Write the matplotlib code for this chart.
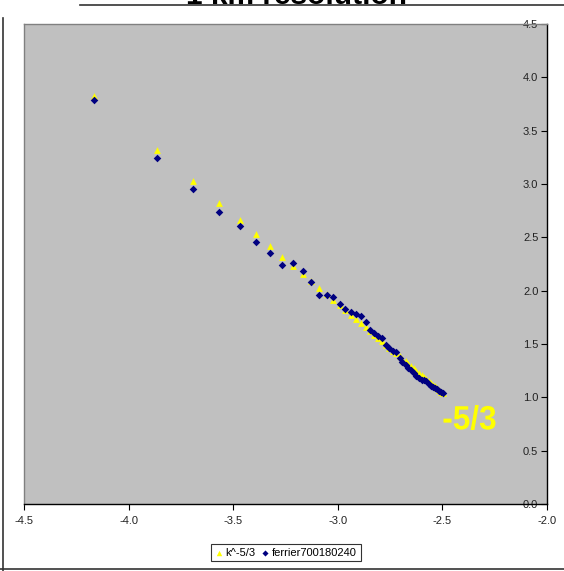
import matplotlib
matplotlib.use("Agg")
import matplotlib.pyplot as plt
from matplotlib.lines import Line2D
from matplotlib.textpath import TextPath
from matplotlib.patches import PathPatch
from matplotlib.font_manager import FontProperties
from matplotlib.transforms import Affine2D, IdentityTransform

# ---- data ----
x_vals = [-4.167, -3.866, -3.690, -3.565, -3.468, -3.389, -3.322, -3.264, -3.212, -3.167,
          -3.125, -3.087, -3.053, -3.021, -2.991, -2.963, -2.936, -2.911, -2.888, -2.866,
          -2.844, -2.824, -2.805, -2.786, -2.769, -2.752, -2.735, -2.720, -2.704, -2.690,
          -2.675, -2.662, -2.648, -2.635, -2.623, -2.610, -2.598, -2.587, -2.576, -2.565,
          -2.554, -2.543, -2.533, -2.523, -2.513, -2.504, -2.495]

k53_vals = [3.824, 3.322, 3.029, 2.821, 2.659, 2.527, 2.416, 2.319, 2.234, 2.157,
            2.088, 2.025, 1.967, 1.914, 1.864, 1.817, 1.773, 1.732, 1.693, 1.656,
            1.620, 1.587, 1.554, 1.524, 1.494, 1.466, 1.438, 1.412, 1.387, 1.362,
            1.338, 1.315, 1.293, 1.272, 1.251, 1.230, 1.210, 1.191, 1.172, 1.154,
            1.136, 1.119, 1.102, 1.085, 1.069, 1.053, 1.037]

ferrier_vals = [3.789, 3.240, 2.955, 2.734, 2.608, 2.458, 2.350, 2.243, 2.256, 2.184,
                2.081, 1.959, 1.959, 1.945, 1.874, 1.825, 1.802, 1.778, 1.762, 1.703,
                1.631, 1.600, 1.577, 1.556, 1.490, 1.459, 1.439, 1.425, 1.368, 1.331,
                1.303, 1.275, 1.256, 1.225, 1.200, 1.181, 1.162, 1.162, 1.153, 1.125,
                1.106, 1.097, 1.084, 1.078, 1.064, 1.050, 1.040]

series_names = ["k^-5/3", "ferrier700180240"]
x_ticks = [-4.5, -4.0, -3.5, -3.0, -2.5, -2.0]
y_ticks = [0.0, 0.5, 1.0, 1.5, 2.0, 2.5, 3.0, 3.5, 4.0, 4.5]
title_text = "1 km resolution"
slope_label = "-5/3"

plt.rcParams['font.family'] = ['Liberation Sans', 'DejaVu Sans']

W, H = 564, 571
fig = plt.figure(figsize=(W / 100, H / 100), dpi=100)
fig.patch.set_facecolor('white')

ax = fig.add_axes([24 / W, 1 - 504 / H, (546.7 - 24) / W, (504 - 24) / H])
ax.set_facecolor('#C0C0C0')

ax.scatter(x_vals, k53_vals, marker='^', s=24, color='#FFFF00', linewidths=0,
           label=series_names[0], zorder=3)
ax.scatter(x_vals, ferrier_vals, marker='D', s=15, color='#000080', linewidths=0,
           label=series_names[1], zorder=4)

ax.set_xlim(-4.5, -2.0)
ax.set_ylim(0.0, 4.5)
ax.set_xticks(x_ticks)
ax.set_xticklabels([f"{v:.1f}" for v in x_ticks])
ax.set_yticks(y_ticks)
ax.set_yticklabels([f"{v:.1f}" for v in y_ticks])

ax.yaxis.tick_right()
ax.tick_params(axis='y', direction='in', length=4, width=0.8, pad=-6,
               labelsize=8, colors='black', labelcolor='#222222')
for lab in ax.get_yticklabels():
    lab.set_horizontalalignment('right')
ax.tick_params(axis='x', direction='out', length=4, width=0.8, pad=5,
               labelsize=8, labelcolor='#222222')

ax.spines['left'].set_color('#808080')
ax.spines['top'].set_color('#808080')
ax.spines['right'].set_color('black')
ax.spines['bottom'].set_color('black')
for s in ax.spines.values():
    s.set_linewidth(1.0)

# condensed bold "-5/3" label (as real glyph outlines, horizontally squeezed)
tp = TextPath((0, 0), slope_label, size=35,
              prop=FontProperties(family='Liberation Sans', weight='bold'))
tb = tp.get_extents()
tr = Affine2D().translate(-tb.x0, -tb.y0).scale(52.0 / tb.width, 25.0 / tb.height) \
    .translate(443.5, H - 430.0) + IdentityTransform()
patch = PathPatch(tp, transform=tr, facecolor='#FFFF00', edgecolor='none', zorder=5)
fig.add_artist(patch)

leg = fig.legend(loc='center', bbox_to_anchor=(286 / W, 1 - 552.5 / H), ncol=2,
                 fontsize=8, frameon=True, fancybox=False, handlelength=0.6,
                 handletextpad=0.3, columnspacing=0.6, borderpad=0.35,
                 markerscale=0.8)
leg.get_frame().set_edgecolor('black')
leg.get_frame().set_linewidth(0.8)

# outer chart frame lines
fig.add_artist(Line2D([3 / W, 3 / W], [0, 1 - 18 / H], transform=fig.transFigure,
                      color='#333333', lw=1.2))
fig.add_artist(Line2D([0, 1], [1 - 569 / H, 1 - 569 / H], transform=fig.transFigure,
                      color='#333333', lw=1.2))
fig.add_artist(Line2D([80 / W, 1], [1 - 4.5 / H, 1 - 4.5 / H], transform=fig.transFigure,
                      color='#333333', lw=1.2))

fig.text(296 / W, 1 - 4.5 / H, title_text, fontsize=21.5, fontweight='bold',
         ha='center', va='baseline', color='black')

fig.savefig('out.png', dpi=100, facecolor='white')
